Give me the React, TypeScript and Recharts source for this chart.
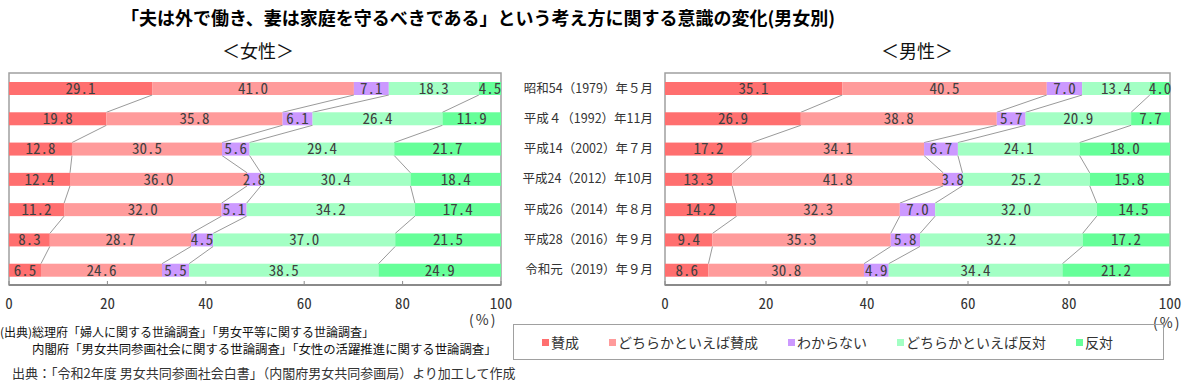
import React from 'react';
import { BarChart, Bar, XAxis, YAxis, LabelList, ReferenceArea } from 'recharts';

// ---------- data ----------
const categories = [
  '昭和54（1979）年５月',
  '平成４（1992）年11月',
  '平成14（2002）年７月',
  '平成24（2012）年10月',
  '平成26（2014）年８月',
  '平成28（2016）年９月',
  '令和元（2019）年９月',
];
const seriesNames = ['賛成', 'どちらかといえば賛成', 'わからない', 'どちらかといえば反対', '反対'];

const femaleAgree = [29.1, 19.8, 12.8, 12.4, 11.2, 8.3, 6.5];
const femaleSomewhatAgree = [41.0, 35.8, 30.5, 36.0, 32.0, 28.7, 24.6];
const femaleDontKnow = [7.1, 6.1, 5.6, 2.8, 5.1, 4.5, 5.5];
const femaleSomewhatDisagree = [18.3, 26.4, 29.4, 30.4, 34.2, 37.0, 38.5];
const femaleDisagree = [4.5, 11.9, 21.7, 18.4, 17.4, 21.5, 24.9];

const maleAgree = [35.1, 26.9, 17.2, 13.3, 14.2, 9.4, 8.6];
const maleSomewhatAgree = [40.5, 38.8, 34.1, 41.8, 32.3, 35.3, 30.8];
const maleDontKnow = [7.0, 5.7, 6.7, 3.8, 7.0, 5.8, 4.9];
const maleSomewhatDisagree = [13.4, 20.9, 24.1, 25.2, 32.0, 32.2, 34.4];
const maleDisagree = [4.0, 7.7, 18.0, 15.8, 14.5, 17.2, 21.2];

const xTicks = [0, 20, 40, 60, 80, 100];

const title = '「夫は外で働き、妻は家庭を守るべきである」という考え方に関する意識の変化(男女別)';
const femaleTitle = '＜女性＞';
const maleTitle = '＜男性＞';
const percentLabel = '(%)';
const note1 = '(出典)総理府「婦人に関する世論調査」「男女平等に関する世論調査」';
const note2 = '内閣府「男女共同参画社会に関する世論調査」「女性の活躍推進に関する世論調査」';
const note3 = '出典：「令和2年度 男女共同参画社会白書」（内閣府男女共同参画局）より加工して作成';

// ---------- style ----------
const COLORS = ['#FF6F6F', '#FF9B9B', '#CC99FF', '#A3FFC4', '#66FF99'];
const KEYS = ['s0', 's1', 's2', 's3', 's4'];
const SANS = "'Noto Sans CJK JP', 'Noto Sans', sans-serif";
const MONO = "'Noto Sans Mono CJK JP', 'Liberation Mono', monospace";

function buildRows(cols: number[][]) {
  return categories.map((c, i) => {
    const row: any = { label: c };
    let cum = 0;
    cols.forEach((col, k) => {
      row[KEYS[k]] = col[i];
      cum += col[i];
      row['cum' + k] = cum;
    });
    return row;
  });
}

const femaleRows = buildRows([femaleAgree, femaleSomewhatAgree, femaleDontKnow, femaleSomewhatDisagree, femaleDisagree]);
const maleRows = buildRows([maleAgree, maleSomewhatAgree, maleDontKnow, maleSomewhatDisagree, maleDisagree]);

const geom: Record<string, Record<number, { top: number; bottom: number }>> = {};

function makeShape(chartKey: string, k: number, rows: any[]) {
  return (props: any) => {
    const { x, y, width, height, fill, index } = props;
    if (!geom[chartKey]) geom[chartKey] = {};
    geom[chartKey][index] = { top: y, bottom: y + height };
    let line: any = null;
    const val = rows[index][KEYS[k]];
    if (index > 0 && k < 4 && val > 0 && width > 0) {
      const prev = geom[chartKey][index - 1];
      const ppu = width / val;
      const x0 = x - (rows[index]['cum' + k] - val) * ppu;
      if (prev) {
        line = (
          <line
            x1={x0 + rows[index - 1]['cum' + k] * ppu}
            y1={prev.bottom}
            x2={x + width}
            y2={y}
            stroke="#9a9a9a"
            strokeWidth={1}
          />
        );
      }
    }
    return (
      <g>
        <rect x={x} y={y} width={width} height={height} fill={fill} />
        {line}
      </g>
    );
  };
}

const XTick = (props: any) => {
  const { x, y, payload } = props;
  return (
    <g>
      <line x1={x} x2={x} y1={y} y2={y - 4} stroke="#8a8a8a" strokeWidth={1} />
      <text x={x} y={y + 17} textAnchor="middle" dominantBaseline="central" fontSize={15} fill="#333" fontFamily={MONO}>
        {payload.value}
      </text>
    </g>
  );
};

function StackChart({ rows, chartKey, showLabels, width, marginLeft, marginRight, yWidth }: any) {
  return (
    <BarChart
      width={width}
      height={320}
      data={rows}
      layout="vertical"
      margin={{ top: 73, right: marginRight, bottom: 5, left: marginLeft }}
    >
      <XAxis
        type="number"
        domain={[0, 100]}
        ticks={xTicks}
        allowDataOverflow
        height={30}
        axisLine={{ stroke: '#8a8a8a', strokeWidth: 2 }}
        tickLine={false}
        tickSize={0}
        tickMargin={0}
        tick={<XTick />}
        interval={0}
      />
      <YAxis
        type="category"
        dataKey="label"
        hide={!showLabels}
        width={yWidth}
        axisLine={false}
        tickLine={false}
        tickSize={0}
        tickMargin={12}
        interval={0}
        tick={{ fontSize: 12.5, fill: '#333', fontFamily: SANS }}
      />
      <ReferenceArea x1={0} x2={100} stroke="#a0a0a0" strokeWidth={1.5} fill="none" fillOpacity={0} ifOverflow="visible" />
      {KEYS.map((key, k) => (
        <Bar
          key={key}
          dataKey={key}
          name={seriesNames[k]}
          stackId="a"
          fill={COLORS[k]}
          barSize={13}
          isAnimationActive={false}
          shape={makeShape(chartKey, k, rows)}
        >
          <LabelList
            dataKey={key}
            position="center"
            formatter={(v: any) => Number(v).toFixed(1)}
            fill="#404040"
            fontSize={15}
            fontFamily={MONO}
          />
        </Bar>
      ))}
    </BarChart>
  );
}

const abs = (left: number, top: number, extra: any = {}) => ({ position: 'absolute' as const, left, top, ...extra });

export default function App() {
  return (
    <div style={{ position: 'absolute', left: 0, top: 0, width: 1186, height: 387, background: '#fff', fontFamily: SANS, overflow: 'hidden' }}>
      <div style={abs(78, 5, { width: 800, textAlign: 'center', fontSize: 18, fontWeight: 700, color: '#000', lineHeight: '24px', whiteSpace: 'nowrap' })}>{title}</div>
      <div style={abs(158, 38, { width: 200, textAlign: 'center', fontSize: 18, color: '#111', lineHeight: '24px' })}>{femaleTitle}</div>
      <div style={abs(817, 38, { width: 200, textAlign: 'center', fontSize: 18, color: '#111', lineHeight: '24px' })}>{maleTitle}</div>

      <div style={abs(0, 0)}>
        <StackChart rows={femaleRows} chartKey="female" showLabels={false} width={520} marginLeft={9} marginRight={19} yWidth={0} />
      </div>
      <div style={abs(500, 0)}>
        <StackChart rows={maleRows} chartKey="male" showLabels={true} width={686} marginLeft={0} marginRight={16} yWidth={165} />
      </div>

      <div style={abs(469, 312, { fontSize: 14, color: '#333', lineHeight: '15px', letterSpacing: 2, whiteSpace: 'nowrap' })}>{percentLabel}</div>
      <div style={abs(1153, 315, { fontSize: 14, color: '#333', lineHeight: '15px', letterSpacing: 2, whiteSpace: 'nowrap' })}>{percentLabel}</div>

      <div style={abs(513, 324, { width: 621, height: 34, border: '1.5px solid #a0a0a0', display: 'flex', alignItems: 'center', paddingLeft: 28, gap: 30, boxSizing: 'content-box' })}>
        {seriesNames.map((n, k) => (
          <div key={n} style={{ display: 'flex', alignItems: 'center', fontSize: 14, color: '#333', lineHeight: '18px', whiteSpace: 'nowrap' }}>
            <span style={{ display: 'inline-block', width: 7, height: 7, background: COLORS[k], marginRight: 2 }} />
            {n}
          </div>
        ))}
      </div>

      <div style={abs(0, 325, { fontSize: 12, color: '#111', lineHeight: '13px', whiteSpace: 'nowrap' })}>{note1}</div>
      <div style={abs(32, 343, { fontSize: 12.4, color: '#111', lineHeight: '13px', whiteSpace: 'nowrap' })}>{note2}</div>
      <div style={abs(12, 365, { fontSize: 13, color: '#333', lineHeight: '16px', whiteSpace: 'nowrap' })}>{note3}</div>
    </div>
  );
}
